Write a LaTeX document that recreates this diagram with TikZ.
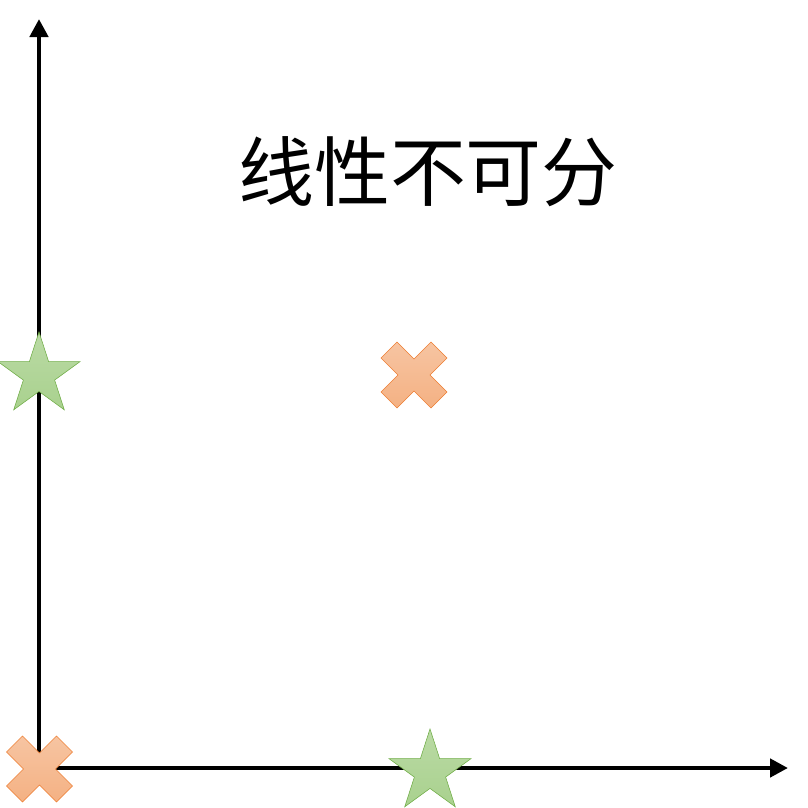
\documentclass[tikz,border=0pt]{standalone}
\usepackage{fontspec}
\newfontfamily\cjk{Noto Sans CJK SC}
\usetikzlibrary{arrows.meta,shapes.geometric}
\definecolor{starfill}{HTML}{A9D18E}
\definecolor{starline}{HTML}{70AD47}
\definecolor{crossfill}{HTML}{F4B183}
\definecolor{crossline}{HTML}{ED7D31}
\tikzset{
  axis/.style={line width=0.12cm, -{Triangle[length=0.45cm, width=0.45cm]}},
  starmark/.style={star, star points=5, star point ratio=2.618, minimum size=2.15cm, inner sep=0pt,
    draw=starline, top color=starfill!80!white, bottom color=starfill},
  xmark/.pic={\draw[crossline, top color=crossfill!75!white, bottom color=crossfill]
    (-33,-17)--(-17,-33)--(0,-16)--(17,-33)--(33,-17)--(16,0)--(33,17)--(17,33)--(0,16)--(-17,33)--(-33,17)--(-16,0)--cycle;}
}
\begin{document}
\begin{tikzpicture}[x=0.025cm, y=-0.025cm]
			\useasboundingbox (0,0) rectangle (808,808);
			\coordinate (o) at (39,768);
			\coordinate (xend) at (788,768);
			\coordinate (yend) at (39,19);
			\draw[axis](o)--(xend);
			\draw[axis](o)--(yend);
			\node (title) at(428,172){\cjk\fontsize{54}{60}\selectfont 线性不可分};
			\pic (c1) at(414,375){xmark};
			\pic (c2) at(39.5,769){xmark};
			\node[starmark] (s1) at(39,375){};
			\node[starmark] (s2) at(430,772){};
			\end{tikzpicture}
\end{document}
